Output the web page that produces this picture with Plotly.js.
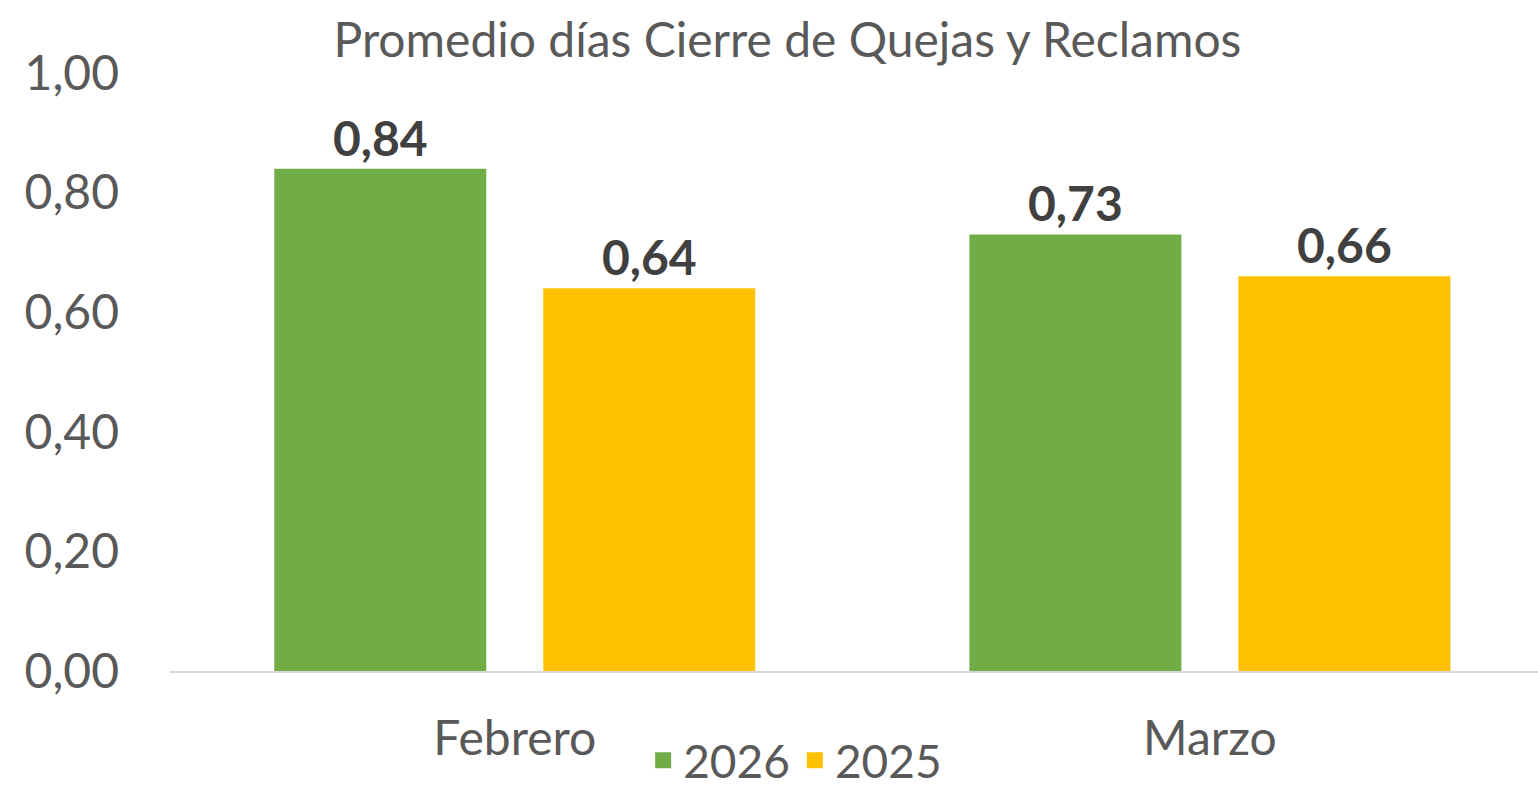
<!DOCTYPE html>
<html>
<head>
<meta charset="utf-8">
<script src="https://cdn.plot.ly/plotly-3.0.1.min.js"></script>
<style>html,body{margin:0;padding:0;background:#fff;}#chart{width:1538px;height:787px;}</style>
</head>
<body>
<div id="chart"></div>
<script>
const categories = ["Febrero", "Marzo"];
const series2026 = [0.84, 0.73];
const series2025 = [0.64, 0.66];
const seriesNames = ["2026", "2025"];
const seriesColors = ["#70AD47", "#FFC000"];
const yTicks = [0, 0.2, 0.4, 0.6, 0.8, 1.0];

const FONT = "Lato, 'Open Sans', sans-serif";
const FS = 48;
const common = {
  type: "bar",
  x: categories,
  texttemplate: "%{y:.2f}",
  textposition: "outside",
  cliponaxis: false,
  showlegend: false,
  textfont: {family: FONT, size: FS, color: "#404040", weight: "bold"},
  hoverinfo: "skip"
};
const data = [
  Object.assign({}, common, {name: seriesNames[0], legendgroup: "a", y: series2026, marker: {color: seriesColors[0]}}),
  Object.assign({}, common, {name: seriesNames[1], legendgroup: "b", y: series2025, marker: {color: seriesColors[1]}}),
  {type: "scatter", mode: "markers", x: [null], y: [null], name: seriesNames[0], legendgroup: "a",
   marker: {symbol: "square", size: 28, color: seriesColors[0]}, hoverinfo: "skip"},
  {type: "scatter", mode: "markers", x: [null], y: [null], name: seriesNames[1], legendgroup: "b",
   marker: {symbol: "square", size: 28, color: seriesColors[1]}, hoverinfo: "skip"}
];
const layout = {
  width: 1538, height: 787,
  margin: {l: 170, r: 0, t: 73, b: 116},
  paper_bgcolor: "#fff", plot_bgcolor: "#fff",
  separators: ",.",
  font: {family: FONT, color: "#595959", size: FS},
  title: {text: "Promedio días Cierre de Quejas y Reclamos", x: 0.512, xanchor: "center", y: 0.949, yanchor: "middle",
          font: {family: FONT, size: FS, color: "#595959"}},
  barmode: "group",
  bargap: 0.226,
  bargroupgap: 0.212,
  showlegend: true,
  legend: {orientation: "h", x: 0.517, xanchor: "center", xref: "container", yref: "container", y: 0.034, yanchor: "middle",
           font: {family: FONT, size: 46, color: "#595959"}, itemsizing: "trace", itemwidth: 30, traceorder: "normal",
           bgcolor: "rgba(0,0,0,0)"},
  xaxis: {type: "category", range: [-0.496, 1.472], showgrid: false, zeroline: false,
          showline: true, linecolor: "#D9D9D9", linewidth: 2, ticks: "", ticklabelstandoff: 24,
          tickfont: {family: FONT, size: FS, color: "#595959"}},
  yaxis: {range: [0, 1.0], tickvals: yTicks, tickformat: ".2f", showgrid: false, zeroline: false,
          showline: false, ticks: "", ticklabelstandoff: 50,
          tickfont: {family: FONT, size: FS, color: "#595959"}}
};
Plotly.newPlot("chart", data, layout, {displayModeBar: false, staticPlot: true});
</script>
</body>
</html>
